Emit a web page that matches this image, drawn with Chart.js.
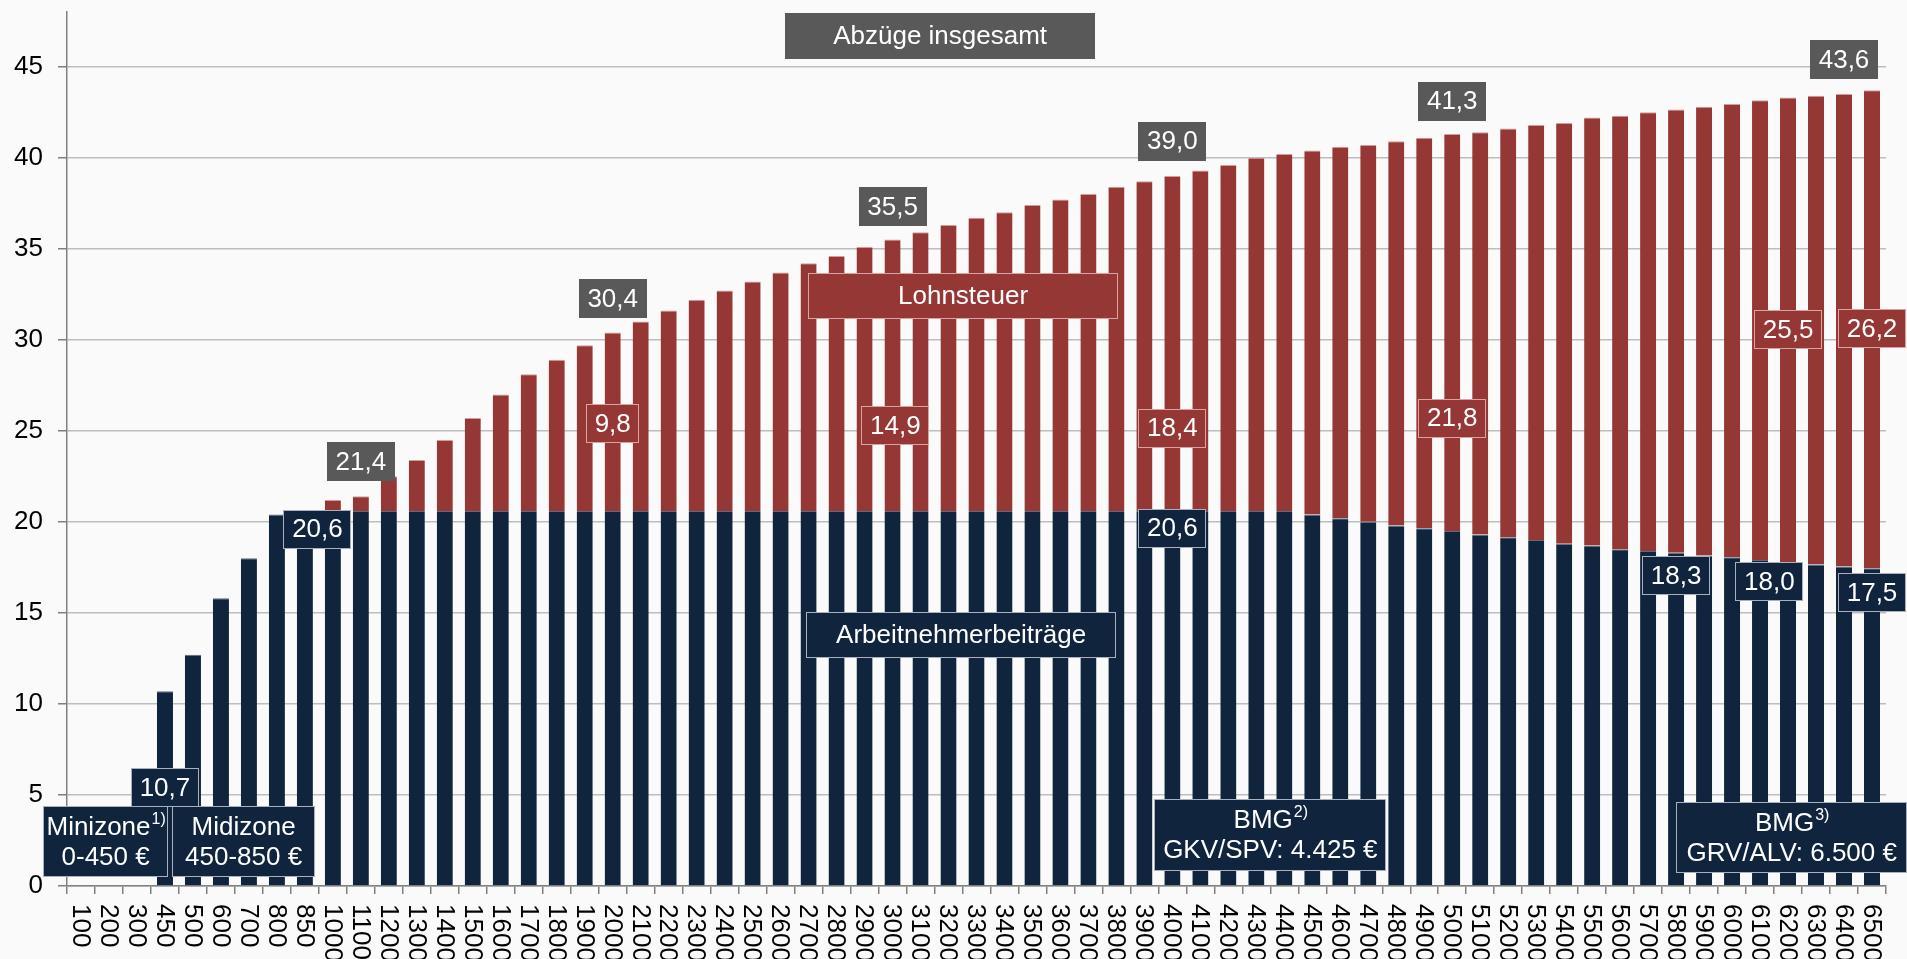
<!DOCTYPE html>
<html>
<head>
<meta charset="utf-8">
<script src="https://cdn.jsdelivr.net/npm/chart.js@4/dist/chart.umd.min.js"></script>
<style>
  html, body { margin: 0; padding: 0; background: #fafafa; overflow: hidden; }
  #wrap { width: 1907px; height: 959px; position: relative; }
</style>
</head>
<body>
<div id="wrap"><canvas id="chart"></canvas></div>
<script>
// Bruttomonatslohn in Euro (Kategorien)
const einkommen = [
    '100', '200', '300', '450', '500', '600', '700', '800', '850',
    '1000', '1100', '1200', '1300', '1400', '1500', '1600', '1700', '1800', '1900',
    '2000', '2100', '2200', '2300', '2400', '2500', '2600', '2700', '2800', '2900',
    '3000', '3100', '3200', '3300', '3400', '3500', '3600', '3700', '3800', '3900',
    '4000', '4100', '4200', '4300', '4400', '4500', '4600', '4700', '4800', '4900',
    '5000', '5100', '5200', '5300', '5400', '5500', '5600', '5700', '5800', '5900',
    '6000', '6100', '6200', '6300', '6400', '6500'
];

// Arbeitnehmerbeitraege in % des Bruttolohns
const beitraege = [
    0, 0, 0, 10.7, 12.7, 15.8, 18.0, 20.4, 20.6,
    20.6, 20.6, 20.6, 20.6, 20.6, 20.6, 20.6, 20.6, 20.6, 20.6,
    20.6, 20.6, 20.6, 20.6, 20.6, 20.6, 20.6, 20.6, 20.6, 20.6,
    20.6, 20.6, 20.6, 20.6, 20.6, 20.6, 20.6, 20.6, 20.6, 20.6,
    20.6, 20.6, 20.6, 20.6, 20.6, 20.4, 20.2, 20.0, 19.8, 19.65,
    19.5, 19.3, 19.15, 19.0, 18.8, 18.7, 18.5, 18.4, 18.3, 18.15,
    18.05, 17.9, 17.8, 17.65, 17.55, 17.45
];

// Lohnsteuer in % des Bruttolohns
const lohnsteuer = [
    0, 0, 0, 0, 0, 0, 0, 0, 0,
    0.6, 0.8, 1.9, 2.8, 3.9, 5.1, 6.4, 7.5, 8.3, 9.1,
    9.8, 10.4, 11.0, 11.6, 12.1, 12.6, 13.1, 13.6, 14.0, 14.5,
    14.9, 15.3, 15.7, 16.1, 16.4, 16.8, 17.1, 17.4, 17.8, 18.1,
    18.4, 18.7, 19.0, 19.4, 19.6, 20.0, 20.4, 20.7, 21.1, 21.45,
    21.8, 22.1, 22.45, 22.8, 23.1, 23.5, 23.8, 24.1, 24.35, 24.65,
    24.9, 25.25, 25.5, 25.75, 25.95, 26.25
];

// Beschriftungen: [Kategorie-Position, y-Wert, Text]
const summenLabels = [
    [10, 23.3, '21,4'], [19, 32.25, '30,4'], [29, 37.3, '35,5'],
    [39, 40.9, '39,0'], [49, 43.1, '41,3'], [63, 45.4, '43,6']
];
const steuerLabels = [
    [19, 25.4, '9,8'], [29.1, 25.3, '14,9'], [39, 25.15, '18,4'],
    [49, 25.7, '21,8'], [61, 30.55, '25,5'], [64, 30.6, '26,2']
];
const beitragLabels = [
    [3, 5.4, '10,7'], [8.45, 19.6, '20,6'], [39, 19.65, '20,6'],
    [57, 17.05, '18,3'], [60.33, 16.7, '18,0'], [64, 16.1, '17,5']
];

const NAVY = '#10243e';
const RED = '#953735';
const GREY = '#595959';
const FONT = "'Liberation Sans', Arial, sans-serif";

const boxes = [];
summenLabels.forEach(l => boxes.push({at: l, w: 0, h: 39, fill: GREY, stroke: null, lines: [l[2]]}));
steuerLabels.forEach(l => boxes.push({at: l, w: 0, h: 39, fill: RED, stroke: '#d9a3a2', lines: [l[2]]}));
beitragLabels.forEach(l => boxes.push({at: l, w: 0, h: 39, fill: NAVY, stroke: '#a9b0bd', lines: [l[2]]}));
boxes.push({at: [30.7, 46.7], w: 310, h: 46, fill: GREY, stroke: null, lines: ['Abzüge insgesamt']});
boxes.push({at: [31.52, 32.4], w: 310, h: 46, fill: RED, stroke: '#d9a3a2', lines: ['Lohnsteuer']});
boxes.push({at: [31.45, 13.8], w: 310, h: 46, fill: NAVY, stroke: '#a9b0bd', lines: ['Arbeitnehmerbeiträge']});
boxes.push({at: [0.88, 2.45], w: 125, h: 71, fill: NAVY, stroke: '#a9b0bd', lines: ['Minizone^1)', '0-450 €']});
boxes.push({at: [5.81, 2.45], w: 143, h: 71, fill: NAVY, stroke: '#a9b0bd', lines: ['Midizone', '450-850 €']});
boxes.push({at: [42.5, 2.8], w: 232, h: 72, fill: NAVY, stroke: '#a9b0bd', lines: ['BMG^2)', 'GKV/SPV: 4.425 €']});
boxes.push({at: [61.13, 2.66], w: 231, h: 71, fill: NAVY, stroke: '#a9b0bd', lines: ['BMG^3)', 'GRV/ALV: 6.500 €']});

function drawLine(ctx, text, cx, cy) {
    const parts = text.split('^');
    const main = parts[0], sup = parts[1] || '';
    ctx.font = '26px ' + FONT;
    const wMain = ctx.measureText(main).width;
    ctx.font = '16px ' + FONT;
    const wSup = sup ? ctx.measureText(sup).width : 0;
    let x = cx - (wMain + wSup) / 2;
    ctx.textAlign = 'left';
    ctx.textBaseline = 'middle';
    ctx.font = '26px ' + FONT;
    ctx.fillText(main, x, cy);
    if (sup) {
        ctx.font = '16px ' + FONT;
        ctx.fillText(sup, x + wMain + 1, cy - 8);
    }
}

const labelPlugin = {
    id: 'labelPlugin',
    afterDraw(chart) {
        const ctx = chart.ctx;
        const xs = chart.scales.x, ys = chart.scales.y;
        const x0 = xs.getPixelForValue(0);
        const step = xs.getPixelForValue(1) - x0;

        // x axis labels, rotated clockwise
        ctx.save();
        ctx.fillStyle = '#000';
        ctx.font = '26px ' + FONT;
        ctx.textAlign = 'left';
        ctx.textBaseline = 'middle';
        einkommen.forEach((lab, i) => {
            ctx.save();
            ctx.translate(xs.getPixelForValue(i) - 1, ys.bottom + 18);
            ctx.rotate(Math.PI / 2);
            ctx.fillText(lab, 0, 0);
            ctx.restore();
        });
        ctx.restore();

        // boxes
        boxes.forEach(b => {
            const cx = x0 + b.at[0] * step;
            const cy = ys.getPixelForValue(b.at[1]);
            let w = b.w;
            if (!w) {
                ctx.font = '26px ' + FONT;
                w = Math.round(ctx.measureText(b.lines[0]).width + 17);
            }
            ctx.save();
            ctx.fillStyle = b.fill;
            ctx.fillRect(Math.round(cx - w / 2), Math.round(cy - b.h / 2), w, b.h);
            if (b.stroke) {
                ctx.strokeStyle = b.stroke;
                ctx.lineWidth = 1;
                ctx.strokeRect(Math.round(cx - w / 2) + 0.5, Math.round(cy - b.h / 2) + 0.5, w - 1, b.h - 1);
            }
            ctx.fillStyle = '#fff';
            const n = b.lines.length;
            b.lines.forEach((t, k) => drawLine(ctx, t, cx, cy + (k - (n - 1) / 2) * 30 + 1));
            ctx.restore();
        });
    }
};

new Chart(document.getElementById('chart'), {
    type: 'bar',
    data: {
        labels: einkommen,
        datasets: [
            {
                label: 'Arbeitnehmerbeiträge',
                data: beitraege,
                backgroundColor: NAVY,
                borderColor: '#5d6b80',
                borderWidth: {top: 1, left: 0, right: 0, bottom: 0},
                categoryPercentage: 1,
                barPercentage: 0.575
            },
            {
                label: 'Lohnsteuer',
                data: lohnsteuer,
                backgroundColor: RED,
                borderColor: '#d59b9a',
                borderWidth: {top: 1, left: 0, right: 0, bottom: 0},
                categoryPercentage: 1,
                barPercentage: 0.575
            }
        ]
    },
    options: {
        responsive: true,
        maintainAspectRatio: false,
        animation: false,
        devicePixelRatio: 1,
        layout: {padding: {left: 0, right: 21, top: 12, bottom: 0}},
        plugins: {
            legend: {display: false},
            tooltip: {enabled: false}
        },
        scales: {
            x: {
                stacked: true,
                grid: {
                    offset: true,
                    drawOnChartArea: false,
                    drawTicks: true,
                    tickLength: 8,
                    tickColor: '#808080',
                    lineWidth: 1.5
                },
                border: {color: '#808080', width: 1.5},
                ticks: {display: false},
                afterFit(scale) {
                    scale.height = 73;
                    scale.paddingLeft = 0;
                    scale.paddingRight = 0;
                }
            },
            y: {
                stacked: true,
                min: 0,
                max: 48,
                ticks: {
                    stepSize: 5,
                    color: '#000',
                    padding: 15,
                    font: {size: 26, family: FONT}
                },
                afterBuildTicks(scale) {
                    scale.ticks = scale.ticks.filter(t => t.value % 5 === 0);
                },
                grid: {
                    color: '#bdbdbd',
                    lineWidth: 1.5,
                    drawTicks: true,
                    tickLength: 9,
                    tickColor: '#808080'
                },
                border: {color: '#808080', width: 1.5},
                afterFit(scale) {
                    scale.width = 67;
                    scale.paddingTop = 0;
                    scale.paddingBottom = 0;
                }
            }
        }
    },
    plugins: [labelPlugin]
});
</script>
</body>
</html>
